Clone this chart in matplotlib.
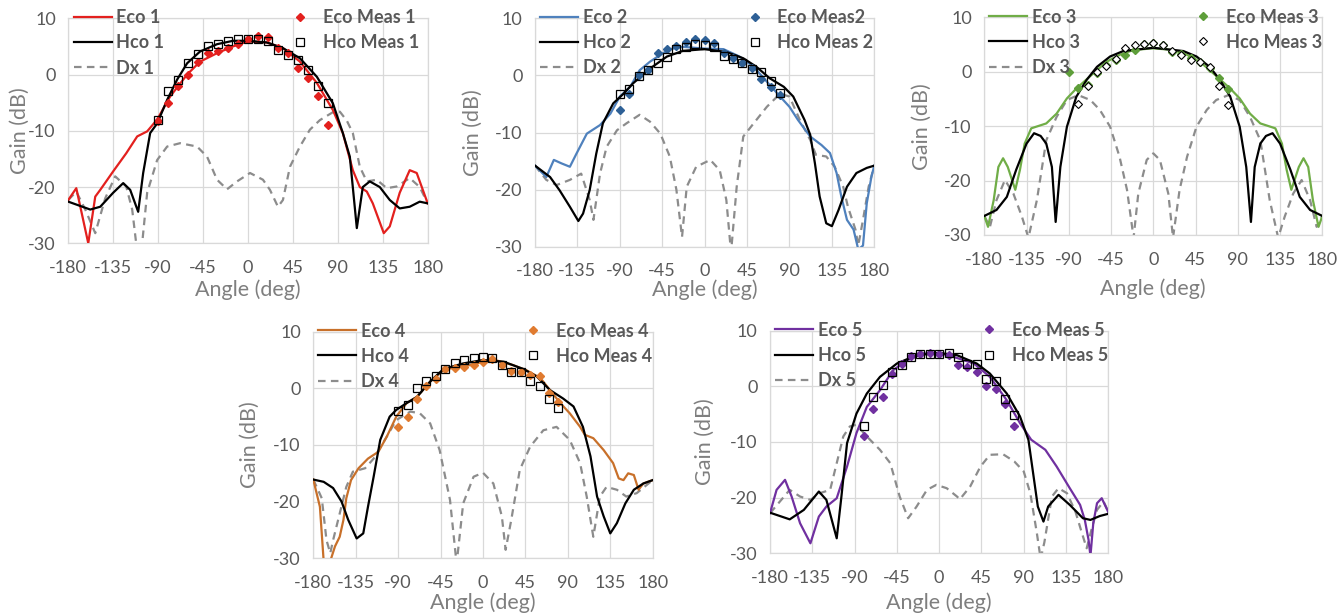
import matplotlib
matplotlib.use("Agg")
import matplotlib.pyplot as plt
from matplotlib.lines import Line2D

plt.rcParams['font.family'] = ['Lato', 'DejaVu Sans']
plt.rcParams['axes.unicode_minus'] = False

# ---------------- data ----------------
meas_ang = [-90, -80, -70, -60, -50, -40, -30, -20, -10, 0, 10, 20, 30, 40, 50, 60, 70, 80]
meas_ang80 = [-80, -70, -60, -50, -40, -30, -20, -10, 0, 10, 20, 30, 40, 50, 60, 70, 80]

# Panel 1
eco1_ang = [-180, -172, -160, -153, -148, -135, -122, -111, -101, -91, -78, -61, -48, -31, -15, 0, 19, 35, 52, 69, 85, 95, 105, 112, 119, 125, 136, 142, 152, 162, 169, 180]
eco1 = [-22.3, -20.2, -30, -21.7, -20.5, -17.2, -14, -11, -10.1, -8, -3.9, 0, 2.3, 3.8, 5, 5.9, 5.7, 4.7, 2.3, -1.5, -6.3, -10.4, -17, -20, -20.8, -22.9, -28.2, -27, -21, -17, -17.5, -22.9]
hco1_ang = [-180, -158, -148, -135, -125, -118, -110, -105, -98, -91, -81, -71, -61, -48, -31, -15, 0, 19, 35, 52, 69, 85, 95, 102, 109, 115, 122, 132, 142, 152, 162, 172, 180]
hco1 = [-22.6, -24, -23.5, -21, -19.3, -20.5, -24.4, -17.5, -10.4, -8.7, -4.5, -0.9, 2.0, 4.1, 5.4, 6.0, 6.0, 5.7, 4.7, 2.9, -0.4, -5.1, -10.4, -14.6, -27.3, -20, -19, -20, -22.3, -23.8, -23.5, -22.6, -22.9]
dx1_ang = [-180, -172, -163, -153, -143, -133, -122, -116, -112, -109, -106, -101, -91, -81, -68, -51, -41, -31, -21, -11, 2, 15, 22, 30, 35, 42, 52, 62, 72, 85, 92, 99, 105, 112, 119, 129, 139, 149, 162, 172, 180]
dx1 = [-22.3, -20.8, -24, -28.2, -22, -18.1, -19.9, -24, -30, -32, -30, -21, -15.2, -12.8, -12.2, -12.8, -14.6, -18.7, -20.4, -19, -17.5, -18.7, -20.5, -23.5, -22.3, -16.4, -12.8, -9.8, -8.1, -6.7, -6.6, -8.2, -10.4, -16.4, -19, -18.7, -20.2, -19.9, -18.4, -20, -22.9]
ecom1 = [-8.2, -5.1, -2.1, 0.0, 2.3, 3.8, 4.2, 4.8, 5.4, 6.4, 6.9, 6.7, 4.7, 3.8, 1.1, -0.7, -3.9, -9.0]
hcom1 = [-8.0, -3.0, -1.0, 2.0, 3.6, 5.1, 5.4, 6.0, 6.4, 6.4, 6.3, 5.9, 4.4, 3.5, 2.6, 0.8, -2.1, -5.0]

# Panel 2
eco2_ang = [-180, -168, -160, -152, -143, -136, -125, -111, -100, -90, -79, -69, -58, -47, -37, -23, 0, 20, 37, 52, 66, 80, 90, 99, 112, 124, 133, 140, 145, 151, 158, 163, 168, 172, 177, 180]
eco2 = [-15.8, -17.8, -14.8, -15.4, -16, -13.7, -10.2, -8.7, -6.7, -3.7, -2, 0.9, 2.4, 3.6, 4.6, 5.0, 4.7, 4.6, 3.3, 1.5, -1.1, -3.7, -5.5, -7.8, -10.7, -12.2, -13.6, -17.1, -21.2, -25.3, -27, -30.5, -29.8, -22.4, -17.7, -15.8]
hco2_ang = [-180, -164, -154, -143, -134, -129, -122, -115, -108, -97, -86, -76, -58, -40, -23, 0, 23, 41, 55, 69, 84, 94, 101, 106, 112, 117, 122, 129, 135, 142, 151, 161, 172, 180]
hco2 = [-15.8, -17.8, -20.1, -23, -25.5, -24.2, -20.1, -13.7, -8.4, -4.9, -3.2, -1.4, 1.2, 3.3, 4.3, 4.6, 4.1, 3.0, 1.5, -0.5, -2, -3.7, -6.1, -7.8, -10.4, -15.4, -21.2, -25.9, -26.4, -23.6, -19.5, -17.1, -16.2, -15.8]
dx2_ang = [-180, -168, -157, -143, -131, -122, -118, -111, -104, -93, -83, -69, -58, -47, -37, -30, -24, -19, -9, 6, 16, 23, 28, 34, 41, 52, 66, 80, 90, 101, 112, 118, 129, 138, 147, 152, 160, 163, 168, 174, 180]
dx2 = [-15.8, -18.3, -19.2, -18.3, -17.2, -21.8, -25.3, -17.2, -12.5, -9.6, -8.4, -6.9, -8.1, -10.2, -14.2, -20, -28.3, -19.5, -16, -14.8, -16.6, -21.8, -31, -19.5, -10.7, -8.4, -5.5, -3.2, -3.7, -7.8, -11.3, -13.9, -14.2, -16, -19.5, -23, -27, -29.8, -25.3, -19.5, -15.8]
ecom2 = [-6.1, -3.2, 0.0, 0.9, 4.0, 4.7, 5.1, 5.9, 6.4, 6.2, 5.6, 3.9, 3.0, 2.2, 1.3, -0.7, -2.1, -3.4]
hcom2 = [-3.2, -2.3, -0.1, 0.9, 2.1, 3.3, 4.6, 5.0, 5.5, 5.3, 5.0, 3.4, 2.9, 2.2, 1.2, 0.6, -1.0, -3.0]

# Panel 3
eco3_ang = [-180, -176, -170, -165, -160, -155, -147, -142, -137, -130, -114, -103, -92, -82, -71, -60, -50, -36, -21, 0, 21, 36, 50, 60, 71, 82, 92, 103, 114, 130, 137, 142, 147, 155, 160, 165, 170, 176, 180]
eco3 = [-26.5, -28.5, -23.6, -17.5, -15.9, -17.5, -21.7, -18, -13.2, -10.4, -9.5, -7.7, -4.9, -3.1, -1.4, 0.3, 1.8, 3.1, 4.0, 4.3, 4.0, 3.1, 1.8, 0.3, -1.4, -3.1, -4.9, -7.7, -9.5, -10.4, -13.2, -18, -21.7, -17.5, -15.9, -17.5, -23.6, -28.5, -26.5]
hco3_ang = [-180, -167, -156, -146, -135, -127, -120, -114, -108, -104, -99, -92, -82, -71, -60, -46, -32, 0, 32, 46, 60, 71, 82, 92, 99, 104, 108, 114, 120, 127, 135, 146, 156, 167, 180]
hco3 = [-26.5, -25.4, -23, -18, -13.2, -11.3, -11.8, -13.2, -17.5, -27.6, -17.5, -10.1, -4.6, -1.5, 0.9, 2.8, 3.8, 4.4, 3.8, 2.8, 0.9, -1.5, -4.6, -10.1, -17.5, -27.6, -17.5, -13.2, -11.8, -11.3, -13.2, -18, -23, -25.4, -26.5]
dx3_ang = [-180, -174, -167, -158, -149, -140, -133, -124, -114, -103, -92, -80, -67, -57, -46, -36, -28, -21, -16, -7, 0, 7, 16, 21, 28, 36, 46, 57, 67, 80, 92, 103, 114, 124, 133, 140, 149, 158, 167, 174, 180]
dx3 = [-26.5, -28.5, -23.6, -19.9, -22.4, -26.6, -30.5, -23.6, -12.6, -8.3, -5.2, -4.3, -5.2, -7, -10.1, -15.6, -21.7, -30.5, -22.4, -16.2, -15, -16.2, -22.4, -30.5, -21.7, -15.6, -10.1, -7, -5.2, -4.3, -5.2, -8.3, -12.6, -23.6, -30.5, -26.6, -22.4, -19.9, -23.6, -28.5, -26.5]
ecom3 = [0.0, -2.9, -2.4, -0.2, 1.2, 2.1, 3.1, 3.9, 5.1, 5.2, 4.9, 3.7, 3.3, 2.5, 1.7, 0.6, -1.2, -3.2]
hcom3 = [-5.9, -2.6, 0.0, 1.0, 2.3, 4.3, 4.9, 5.1, 5.2, 4.9, 3.8, 3.1, 2.1, 1.8, 0.8, -2.7, -6.1]

# Panel 4
eco4_ang = [-180, -173, -169, -166, -162, -157, -152, -148, -145, -140, -132, -122, -111, -102, -92, -81, -70, -56, -42, -28, -14, 0, 15, 32, 46, 61, 71, 82, 92, 103, 108, 117, 128, 138, 144, 149, 154, 160, 165, 170, 180]
eco4 = [-16.1, -20.9, -30.5, -31, -30.5, -27.9, -26.2, -23.2, -19.4, -16.2, -14.1, -12.4, -11.2, -8.5, -5, -2.6, -1.5, 1.2, 3.2, 3.8, 4.1, 4.7, 4.9, 4.1, 3.2, 1.8, -0.3, -2.6, -4.4, -6.8, -8.2, -8.8, -10.9, -13.2, -15.9, -16.2, -15, -15.3, -17.9, -16.8, -16.2]
hco4_ang = [-180, -169, -159, -150, -143, -134, -127, -122, -116, -109, -99, -92, -81, -70, -56, -42, -21, 0, 22, 43, 57, 71, 85, 96, 106, 114, 121, 128, 135, 142, 151, 160, 170, 180]
hco4 = [-16.1, -16.5, -17.6, -20, -23.2, -26.5, -25.6, -20.9, -15.6, -9.1, -5, -3.8, -2.6, -1.5, 1.2, 3.4, 4.4, 5.0, 4.7, 3.4, 2.1, -0.3, -1.8, -3.2, -6.8, -12, -19.1, -22.6, -25.6, -23.8, -20.3, -17.9, -16.8, -16.2]
dx4_ang = [-180, -171, -166, -162, -159, -152, -145, -138, -125, -116, -102, -92, -77, -67, -56, -46, -35, -28, -21, -10, 0, 11, 20, 24, 30, 39, 50, 64, 78, 92, 103, 110, 117, 124, 131, 142, 152, 163, 180]
dx4 = [-16.1, -19.4, -26.8, -29.1, -26.8, -22.1, -17.4, -14.7, -14.1, -12.4, -8.5, -5.6, -4.1, -4.4, -6.2, -10.9, -19.7, -31, -20.3, -15.6, -14.9, -16.8, -22.6, -28.5, -23.2, -14.4, -10.3, -7.4, -6.8, -9.1, -13.2, -19.1, -26.2, -19.1, -17.4, -17.9, -19.1, -18.5, -16.2]
ecom4 = [-6.9, -5.0, -1.9, 0.4, 1.6, 3.4, 3.6, 3.8, 4.2, 4.6, 5.1, 4.1, 3.1, 2.9, 2.4, 2.1, -0.9, -2.4]
hcom4 = [-4.0, -2.9, 0.1, 1.3, 2.1, 3.5, 4.4, 5.0, 5.3, 5.6, 5.3, 4.1, 2.9, 2.8, 1.3, 0.4, -1.9, -3.5]

# Panel 5
eco5_ang = [-180, -173, -164, -157, -148, -137, -128, -120, -109, -98, -88, -77, -63, -49, -34, -17, 0, 19, 37, 54, 72, 86, 98, 113, 125, 139, 150, 155, 159, 161, 164, 168, 173, 180]
eco5 = [-22.8, -18.6, -16.8, -19.8, -24.6, -28.2, -23.4, -21.6, -20.1, -14.4, -8.4, -3.7, -0.7, 2.9, 4.7, 5.9, 6.0, 5.1, 4.1, 1.7, -2.5, -6.6, -9.6, -11.4, -14.4, -18.3, -21.3, -24, -27.6, -30.5, -24.6, -21, -20.1, -22.6]
hco5_ang = [-180, -159, -144, -128, -120, -109, -104, -98, -88, -77, -63, -45, -24, 0, 19, 40, 54, 72, 86, 95, 100, 105, 111, 116, 127, 139, 153, 161, 171, 180]
hco5 = [-22.7, -23.9, -22.2, -18.9, -20.4, -27.3, -19.8, -10.2, -4.9, -1.3, 1.7, 4.1, 5.6, 6.0, 5.6, 4.1, 2.3, -1.3, -5.4, -9.6, -15.6, -21.6, -24.3, -21.6, -19.5, -21.3, -23.7, -24, -23.3, -22.9]
dx5_ang = [-180, -165, -159, -148, -137, -127, -116, -109, -102, -95, -88, -77, -63, -52, -42, -33, -24, -13, -3, 8, 19, 22, 33, 44, 54, 68, 80, 90, 97, 104, 108, 112, 120, 127, 136, 145, 152, 157, 162, 168, 175, 180]
dx5 = [-22.8, -19.8, -18.6, -19.8, -20.4, -19.2, -18.6, -13.8, -9, -7.2, -6.9, -9, -11.4, -13.8, -19.8, -23.7, -21.6, -18.6, -17.7, -18.3, -19.8, -20.3, -18, -14.4, -12.3, -12.2, -13.5, -15.3, -19.2, -26.4, -31, -28, -19.8, -18.3, -19.2, -22.5, -26.4, -29.1, -25.8, -22.2, -20.7, -22.5]
ecom5 = [-8.9, -4.1, -2.0, 2.2, 4.0, 5.4, 5.9, 6.0, 5.9, 5.7, 3.8, 3.4, 2.6, 0.1, -0.5, -3.2, -7.1]
hcom5 = [-7.1, -2.0, 0.2, 2.6, 3.8, 5.3, 5.9, 5.9, 5.9, 6.0, 5.3, 4.1, 4.1, 1.4, 1.0, -2.2, -5.1]

x_ticks = [-180, -135, -90, -45, 0, 45, 90, 135, 180]
y_ticks = [-30, -20, -10, 0, 10]

labels_eco = ["Eco 1", "Eco 2", "Eco 3", "Eco 4", "Eco 5"]
labels_hco = ["Hco 1", "Hco 2", "Hco 3", "Hco 4", "Hco 5"]
labels_dx = ["Dx 1", "Dx 2", "Dx 3", "Dx 4", "Dx 5"]
labels_ecom = ["Eco Meas 1", "Eco Meas2", "Eco Meas 3", "Eco Meas 4", "Eco Meas 5"]
labels_hcom = ["Hco Meas 1", "Hco Meas 2", "Hco Meas 3", "Hco Meas 4", "Hco Meas 5"]

# ---------------- style ----------------
line_colors = ["#E3201E", "#4F81BD", "#70AD47", "#C8702A", "#7030A0"]
mark_colors = ["#E3201E", "#2E6096", "#5E9E3A", "#E07B30", "#7030A0"]
dx_color = "#8C8C8C"
grid_color = "#D9D9D9"
tick_color = "#595959"
title_color = "#7F7F7F"

W, H = 1339, 614
# axes boxes in pixels: left, top, right, bottom
boxes = [(68.3, 18.3, 427.7, 243.3),
         (535.0, 18.3, 874.3, 246.7),
         (984.3, 17.3, 1322.3, 235.0),
         (313.3, 331.7, 652.7, 558.3),
         (770.0, 330.7, 1108.3, 553.3)]
ylab_off = [48, 62, 62, 63, 65]
xlab_off = [46, 43, 54, 44, 49]

panels = [
    (eco1_ang, eco1, hco1_ang, hco1, dx1_ang, dx1, meas_ang, ecom1, meas_ang, hcom1, 's'),
    (eco2_ang, eco2, hco2_ang, hco2, dx2_ang, dx2, meas_ang, ecom2, meas_ang, hcom2, 's'),
    (eco3_ang, eco3, hco3_ang, hco3, dx3_ang, dx3, meas_ang, ecom3, meas_ang80, hcom3, 'D'),
    (eco4_ang, eco4, hco4_ang, hco4, dx4_ang, dx4, meas_ang, ecom4, meas_ang, hcom4, 's'),
    (eco5_ang, eco5, hco5_ang, hco5, dx5_ang, dx5, meas_ang80, ecom5, meas_ang80, hcom5, 's'),
]

fig = plt.figure(figsize=(W / 100, H / 100), dpi=100)

for i, (box, p) in enumerate(zip(boxes, panels)):
    l, t, r, b = box
    ax = fig.add_axes([l / W, 1 - b / H, (r - l) / W, (b - t) / H])
    ea, ev, ha, hv, da, dv, ema, emv, hma, hmv, hmark = p
    dash = (0, (3.4, 2.4))
    ax.plot(da, dv, color=dx_color, lw=1.6, ls=dash, zorder=2)
    ax.plot(ea, ev, color=line_colors[i], lw=1.6, zorder=3)
    ax.plot(ha, hv, color="black", lw=1.6, zorder=4)
    ax.plot(ema, emv, ls='none', marker='D', ms=4.2, color=mark_colors[i], mec=mark_colors[i], zorder=5)
    if hmark == 's':
        ax.plot(hma, hmv, ls='none', marker='s', ms=5.8, mfc='none', mec='black', mew=0.9, zorder=6)
    else:
        ax.plot(hma, hmv, ls='none', marker='D', ms=4.0, mfc='white', mec='black', mew=0.8, zorder=6)

    ax.set_xlim(-180, 180)
    ax.set_ylim(-30, 10)
    ax.set_xticks(x_ticks)
    ax.set_yticks(y_ticks)
    ax.grid(True, color=grid_color, lw=0.9, zorder=0)
    ax.set_axisbelow(True)
    for s in ax.spines.values():
        s.set_color(grid_color)
        s.set_linewidth(0.9)
    ax.tick_params(length=0, labelsize=13, colors=tick_color)
    ax.tick_params(axis='x', pad=12)
    ax.tick_params(axis='y', pad=9)
    ax.set_xlabel("Angle (deg)", fontsize=15.5, color=title_color)
    ax.set_ylabel("Gain (dB)", fontsize=15.5, color=title_color)
    ax.yaxis.set_label_coords(-ylab_off[i] / (r - l), 0.5)
    ax.xaxis.set_label_coords(0.5, -xlab_off[i] / (b - t))
    ax.xaxis.label.set_va('center')
    ax.yaxis.label.set_va('center')

    h1 = [Line2D([], [], color=line_colors[i], lw=1.6),
          Line2D([], [], color='black', lw=1.6),
          Line2D([], [], color=dx_color, lw=1.6, ls=dash)]
    leg1 = ax.legend(h1, [labels_eco[i], labels_hco[i], labels_dx[i]], loc='upper left',
                     bbox_to_anchor=(0.015, 1.04), frameon=False, handlelength=2.1,
                     handletextpad=0.25, labelspacing=0.45, borderpad=0, borderaxespad=0,
                     prop={'weight': 'bold', 'size': 13})
    for tx in leg1.get_texts():
        tx.set_color(tick_color)
    ax.add_artist(leg1)
    if hmark == 's':
        hm = Line2D([], [], ls='none', marker='s', ms=5.8, mfc='none', mec='black', mew=0.9)
    else:
        hm = Line2D([], [], ls='none', marker='D', ms=4.0, mfc='white', mec='black', mew=0.8)
    h2 = [Line2D([], [], ls='none', marker='D', ms=4.2, color=mark_colors[i]), hm]
    leg2 = ax.legend(h2, [labels_ecom[i], labels_hcom[i]], loc='upper left',
                     bbox_to_anchor=(0.61, 1.04), frameon=False, handlelength=1.4,
                     handletextpad=0.55, labelspacing=0.45, borderpad=0, borderaxespad=0,
                     numpoints=1, prop={'weight': 'bold', 'size': 13})
    for tx in leg2.get_texts():
        tx.set_color(tick_color)

fig.savefig("out.png", dpi=100)
